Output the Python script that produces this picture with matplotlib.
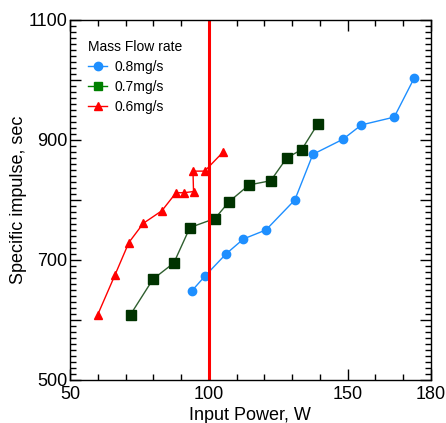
import matplotlib
matplotlib.use("Agg")
import matplotlib.pyplot as plt
from matplotlib.lines import Line2D
from matplotlib.ticker import MultipleLocator, FuncFormatter

plt.rcParams['font.family'] = ['Liberation Sans', 'DejaVu Sans']

# 0.8 mg/s
power_08 = [93.8, 98.6, 106.2, 112.5, 120.6, 131.0, 137.5, 148.3, 155.0, 166.8, 174.0]
isp_08 = [648, 673, 710, 735, 750, 800, 876, 901, 925, 938, 1003]

# 0.7 mg/s
power_07 = [71.8, 79.9, 87.4, 93.2, 102.2, 107.3, 114.5, 122.3, 128.1, 133.5, 139.3]
isp_07 = [609, 668, 695, 754, 769, 797, 825, 832, 870, 884, 927]

# 0.6 mg/s
power_06 = [60.0, 66.2, 71.2, 76.4, 83.1, 88.2, 91.0, 94.5, 94.3, 98.5, 105.2]
isp_06 = [609, 675, 729, 761, 782, 812, 812, 814, 848, 848, 880]

labels = ['0.8mg/s', '0.7mg/s', '0.6mg/s']
blue = '#1E8FFF'
green_fill = '#003300'
green_line = '#2F5F2F'
red = '#FF0000'

fig = plt.figure(figsize=(4.46, 4.23), dpi=100)
ax = fig.add_axes([0.157, 0.1017, 0.809, 0.8513])

ax.plot(power_08, isp_08, '-o', color=blue, lw=1.0, ms=6, mec=blue, mfc=blue)
ax.plot(power_07, isp_07, '-s', color=green_line, lw=1.0, ms=7, mec=green_fill, mfc=green_fill)
ax.plot(power_06, isp_06, '-^', color=red, lw=1.0, ms=6, mec=red, mfc=red)
ax.axvline(100, color=red, lw=2.2)

ax.set_xlim(50, 180)
ax.set_ylim(500, 1100)
ax.xaxis.set_minor_locator(MultipleLocator(10))
ax.set_xticks([50, 100, 150, 180])
ax.yaxis.set_major_locator(MultipleLocator(100))
ax.yaxis.set_minor_locator(MultipleLocator(10))
ax.yaxis.set_major_formatter(FuncFormatter(lambda v, p: f"{int(v)}" if int(v) % 200 == 100 else ""))
ax.tick_params(which='both', direction='in', top=True, right=True, labelsize=13, width=1.0)
ax.tick_params(which='major', length=8)
ax.tick_params(axis='x', which='major', pad=4)
ax.tick_params(axis='y', which='major', pad=2)
ax.tick_params(which='minor', length=4)
for s in ax.spines.values():
    s.set_linewidth(1.0)

ax.set_xlabel('Input Power, W', fontsize=13, labelpad=3)
ax.set_ylabel('Specific impulse, sec', fontsize=13, labelpad=1)

handles = [
    Line2D([], [], color=blue, marker='o', ms=6, lw=1.0),
    Line2D([], [], color='#008000', marker='s', ms=6, lw=1.0),
    Line2D([], [], color=red, marker='^', ms=6, lw=1.0),
]
leg = ax.legend(handles, labels, title='Mass Flow rate', loc='upper left',
                bbox_to_anchor=(0.015, 0.98), frameon=False, fontsize=10,
                title_fontsize=10, handlelength=1.4, handletextpad=0.5,
                labelspacing=0.45)
leg._legend_box.align = 'left'

fig.savefig('out.png', dpi=100)
